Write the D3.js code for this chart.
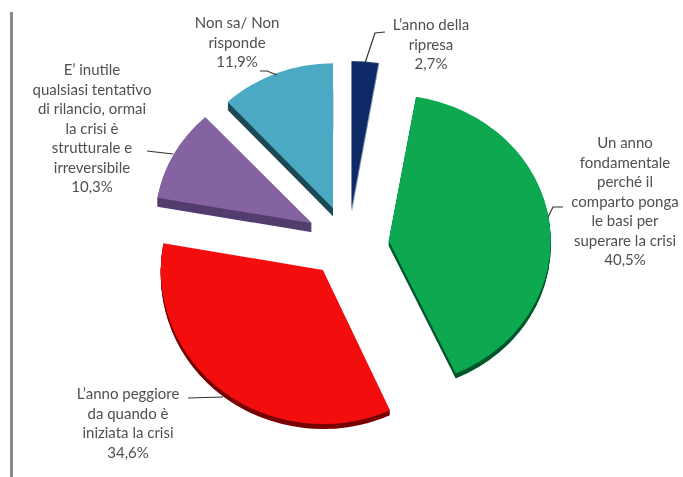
<!DOCTYPE html>
<html><head><meta charset="utf-8">
<script src="https://cdn.jsdelivr.net/npm/d3@7/dist/d3.min.js"></script>
<style>html,body{margin:0;padding:0;background:#fff}svg{display:block}text{font-family:Lato,"Open Sans",sans-serif;font-size:15px;fill:#505050;text-anchor:middle}</style>
</head><body><div id="c"></div>
<script>
const categories = [
  ["L’anno della","ripresa"],
  ["Un anno","fondamentale","perché il","comparto ponga","le basi per","superare la crisi"],
  ["L’anno peggiore","da quando è","iniziata la crisi"],
  ["E’ inutile","qualsiasi tentativo","di rilancio, ormai","la crisi è","strutturale e","irreversibile"],
  ["Non sa/ Non","risponde"]
];
const values = [2.7,40.5,34.6,10.3,11.9];
const topColors = ["#0a2a66","#07a850","#f40c0c","#8464a0","#4ba9c3"];
const sideColors = ["#0a2a66","#04572c","#7a0606","#533c6e","#1f4a56"];
// layout
const W=683,H=477,cx=348,cy=242,explodeX=41,explodeY=33;
const sliceRx=[162,162,162,157,155], sliceRy=[150,146,154,145,145];
const sliceDy=[2,3,2,-3,-3], sliceDepth=[0,5,5,9,8];
const labelX=[431,625,128,92,237], labelY=[30,148,399,75,28], lineH=19.5;
const leaders=[
  [[365,63],[375,33],[385,32]],
  [[548,217],[553,207],[563,207]],
  [[223,397],[188,398]],
  [[173,154],[147,151]],
  [[277,75],[267,71],[260,71]]
];

const svg=d3.select("#c").append("svg").attr("width",W).attr("height",H);
const defs=svg.append("defs");
defs.append("filter").attr("id","soft").append("feGaussianBlur").attr("stdDeviation",0.55);
const root=svg.append("g").attr("filter","url(#soft)");

root.append("rect").attr("x",10).attr("y",12).attr("width",3).attr("height",H-12).attr("fill","#8a8a8a");

const arcs=d3.pie().sort(null).value(d=>d)(values);
const arc=d3.arc().innerRadius(0).outerRadius(1);
const offset=(a,i)=>{const m=(a.startAngle+a.endAngle)/2;return [cx+explodeX*Math.sin(m),cy+sliceDy[i]-explodeY*Math.cos(m)];};

arcs.forEach((a,i)=>{
  const [x,y]=offset(a,i);
  const rx=sliceRx[i], ry=sliceRy[i];
  const g=root.append("g");
  g.selectAll("path.side").data(d3.range(sliceDepth[i],0,-1)).join("path").attr("class","side")
    .attr("transform",d=>`translate(${x},${y+d}) scale(${rx},${ry})`)
    .attr("d",arc(a)).attr("fill",sideColors[i]);
  g.append("path").attr("transform",`translate(${x},${y}) scale(${rx},${ry})`)
    .attr("d",arc(a)).attr("fill",topColors[i]);
});

const line=d3.line();
root.selectAll("path.leader").data(leaders).join("path").attr("class","leader")
  .attr("d",d=>line(d)).attr("fill","none").attr("stroke","#333").attr("stroke-width",1.2);

const fmt=v=>v.toFixed(1).replace(".",",")+"%";
categories.forEach((lines,i)=>{
  const t=root.append("text").attr("x",labelX[i]).attr("y",labelY[i]);
  lines.concat([fmt(values[i])]).forEach((s,j)=>{
    t.append("tspan").attr("x",labelX[i]).attr("y",labelY[i]+j*lineH).text(s);
  });
});
</script></body></html>
